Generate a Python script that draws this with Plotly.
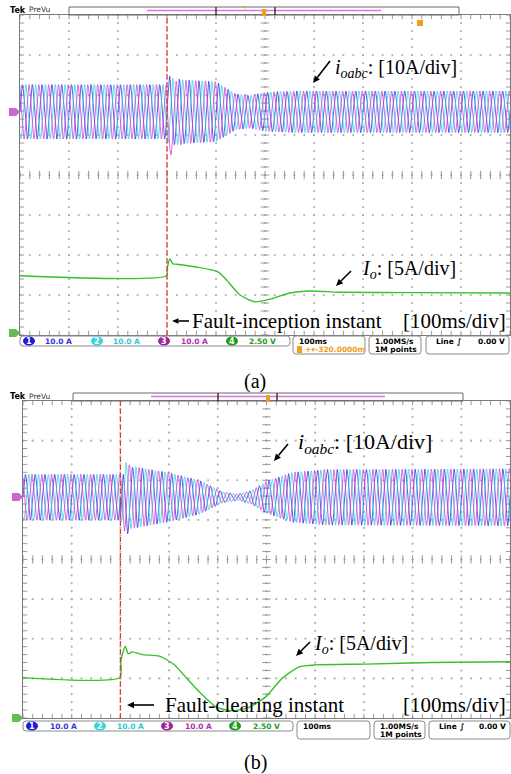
import numpy as np
import plotly.graph_objects as go

W, H = 511, 774


def px(x):
    return x / W


def py(y):
    return 1 - y / H


# ---------------- data (time in ms, amplitude in scope divisions) ----------------
F_LINE = 50.0
PHASE_DEG = [0, -120, 120]
ABC_COLORS = ["#2a2ae6", "#2fd0d8", "#d23ad2"]
GREEN = "#36c22b"

# (a) fault inception at 300 ms
fault_a = 300.0
center_a = 1.58
env_a_t = [0, 300, 306, 330, 400, 420, 440, 470, 500, 560, 1000]
env_a_amp = [0.68, 0.68, 0.86, 0.80, 0.75, 0.60, 0.45, 0.41, 0.49, 0.52, 0.52]
dc_a = [0.10, -0.05, -0.62]
io_a_t = [0, 299, 301, 306, 312, 320, 360, 404, 422, 449, 480, 517, 551, 592, 650, 800, 1000]
io_a = [-2.52, -2.52, -2.30, -2.10, -2.22, -2.23, -2.30, -2.42, -2.63, -3.00, -3.17,
        -3.08, -2.95, -2.90, -2.93, -2.94, -2.95]

# (b) fault clearing at 200 ms
fault_b = 200.0
center_b = 1.57
env_b_t = [0, 200, 206, 225, 300, 362, 409, 440, 470, 499, 553, 620, 1000]
env_b_amp = [0.58, 0.58, 0.88, 0.78, 0.62, 0.43, 0.14, 0.08, 0.18, 0.40, 0.63, 0.70, 0.72]
dc_b = [-0.55, 0.10, 0.05]
io_b_t = [0, 199, 201, 210, 216, 224, 245, 280, 310, 327, 362, 396, 430, 464, 499, 532,
          567, 601, 703, 840, 1000]
io_b = [-2.98, -2.98, -2.55, -2.19, -2.38, -2.33, -2.40, -2.44, -2.65, -2.87, -3.34, -3.72,
        -3.82, -3.73, -3.46, -3.00, -2.71, -2.66, -2.64, -2.60, -2.58]

t = np.arange(0, 1000.001, 0.25)

fig = go.Figure()


def add_panel(n, fault, center, env_t, env_amp, dc, io_t, io_v):
    xa = "x" if n == 1 else "x2"
    ya = "y" if n == 1 else "y2"
    # scope graticule dots
    gx, gy = [], []
    for xv in range(100, 1000, 100):
        for yv in np.arange(-4, 4.001, 0.2):
            gx.append(xv); gy.append(yv)
    for yv in range(-3, 4):
        for xv in np.arange(0, 1000.1, 20):
            gx.append(xv); gy.append(yv)
    fig.add_trace(go.Scatter(x=gx, y=gy, mode="markers", xaxis=xa, yaxis=ya,
                             marker=dict(symbol="circle", size=2.2, color="#b0b0b0",
                                         line=dict(width=0)),
                             hoverinfo="skip", showlegend=False))
    # tick marks on centre cross and frame edges
    hx = list(np.arange(0, 1000.1, 20))
    vy = list(np.arange(-4, 4.001, 0.2))
    fig.add_trace(go.Scatter(x=hx * 3, y=[0] * len(hx) + [4] * len(hx) + [-4] * len(hx),
                             mode="markers", xaxis=xa, yaxis=ya, cliponaxis=True,
                             marker=dict(symbol="line-ns", size=6,
                                         line=dict(width=1, color="#999999")),
                             hoverinfo="skip", showlegend=False))
    fig.add_trace(go.Scatter(x=[500] * len(vy) + [0] * len(vy) + [1000] * len(vy), y=vy * 3,
                             mode="markers", xaxis=xa, yaxis=ya, cliponaxis=True,
                             marker=dict(symbol="line-ew", size=6,
                                         line=dict(width=1, color="#999999")),
                             hoverinfo="skip", showlegend=False))
    # three-phase output currents
    env = np.interp(t, env_t, env_amp)
    after = t >= fault
    for k in range(3):
        trans = np.where(after, dc[k] * np.exp(-(t - fault) / 8.0), 0.0)
        y = center + env * np.sin(2 * np.pi * F_LINE * t / 1000 + np.deg2rad(PHASE_DEG[k])) + trans
        fig.add_trace(go.Scatter(x=t, y=y, mode="lines", xaxis=xa, yaxis=ya,
                                 line=dict(color=ABC_COLORS[k], width=0.75),
                                 hoverinfo="skip", showlegend=False))
    # DC-side current
    fig.add_trace(go.Scatter(x=io_t, y=io_v, mode="lines", xaxis=xa, yaxis=ya,
                             line=dict(color=GREEN, width=1.4, shape="spline", smoothing=0.6),
                             hoverinfo="skip", showlegend=False))
    # fault instant marker
    fig.add_shape(type="line", x0=fault, x1=fault, y0=0, y1=1, xref=xa, yref=ya + " domain",
                  line=dict(color="#e2392e", width=1.3, dash="5px,3px"))


add_panel(1, fault_a, center_a, env_a_t, env_a_amp, dc_a, io_a_t, io_a)
add_panel(2, fault_b, center_b, env_b_t, env_b_amp, dc_b, io_b_t, io_b)

axis_common = dict(showgrid=False, zeroline=False, showticklabels=False, ticks="",
                   showline=True, mirror=True, linecolor="#7a7a7a", linewidth=1)
fig.update_layout(
    width=W, height=H, margin=dict(l=0, r=0, t=0, b=0),
    paper_bgcolor="white", plot_bgcolor="white", showlegend=False,
    xaxis=dict(domain=[px(20), px(510)], range=[0, 1000], anchor="y", **axis_common),
    yaxis=dict(domain=[py(335), py(15)], range=[-4, 4], anchor="x", **axis_common),
    xaxis2=dict(domain=[px(23), px(510)], range=[0, 1000], anchor="y2", **axis_common),
    yaxis2=dict(domain=[py(718), py(401)], range=[-4, 4], anchor="x2", **axis_common),
)

SERIF = "Liberation Serif"
SANS = "DejaVu Sans"
ann = []
shapes = []


def text(x, y, s, size, color="black", family=SERIF, xanchor="left", bold=False):
    if bold:
        s = "<b>" + s + "</b>"
    ann.append(dict(x=px(x), y=py(y), xref="paper", yref="paper", text=s, showarrow=False,
                    xanchor=xanchor, yanchor="middle",
                    font=dict(family=family, size=size, color=color)))


def arrow(hx, hy, tx, ty, head=7.0, half=3.2):
    # shaft plus a filled triangular head pointing at (hx, hy)
    dx, dy = hx - tx, hy - ty
    L = (dx * dx + dy * dy) ** 0.5
    ux, uy = dx / L, dy / L
    bx, by = hx - ux * head, hy - uy * head
    shapes.append(dict(type="line", xref="paper", yref="paper", x0=px(tx), y0=py(ty),
                       x1=px(bx), y1=py(by), line=dict(color="black", width=1.6)))
    p1 = (bx - uy * half, by + ux * half)
    p2 = (bx + uy * half, by - ux * half)
    path = f"M{px(hx)},{py(hy)} L{px(p1[0])},{py(p1[1])} L{px(p2[0])},{py(p2[1])} Z"
    shapes.append(dict(type="path", path=path, xref="paper", yref="paper",
                       fillcolor="black", line=dict(width=0)))


IOABC = "<i>i</i><sub><i>oabc</i></sub>: [10A/div]"
IO = "<i>I</i><sub><i>o</i></sub>: [5A/div]"

# panel (a) labels
text(333, 68, IOABC, 20)
arrow(313, 83, 330, 61)
text(360, 270, IO, 20)
arrow(336, 286, 351, 271)
arrow(172, 321, 189, 321, head=6.5, half=2.8)
text(190, 321, "Fault-inception instant", 21)
text(508, 321, "[100ms/div]", 21, xanchor="right")
text(255, 381, "(a)", 20, xanchor="center")

# panel (b) labels
text(296, 443, IOABC, 22)
arrow(274, 461, 288, 444)
text(312, 644, IO, 20)
arrow(296, 656, 310, 642)
arrow(127, 705, 154, 705)
text(163, 705, "Fault-clearing instant", 21)
text(508, 705, "[100ms/div]", 21, xanchor="right")
text(255, 762, "(b)", 20, xanchor="center")


def rbox(x0, y0, x1, y1, color="#8a8a8a", r=3):
    a, b, c, d = px(x0), py(y0), px(x1), py(y1)
    rx, ry = r / W, r / H
    path = (f"M{a+rx},{b} L{c-rx},{b} Q{c},{b} {c},{b-ry} L{c},{d+ry} Q{c},{d} {c-rx},{d} "
            f"L{a+rx},{d} Q{a},{d} {a},{d+ry} L{a},{b-ry} Q{a},{b} {a+rx},{b} Z")
    shapes.append(dict(type="path", path=path, xref="paper", yref="paper",
                       line=dict(color=color, width=1)))


def badge(x, y, num, fill):
    shapes.append(dict(type="circle", xref="paper", yref="paper",
                       x0=px(x - 6), x1=px(x + 6), y0=py(y + 4.5), y1=py(y - 4.5),
                       fillcolor=fill, line=dict(width=0)))
    text(x, y, num, 8, color="white", family=SANS, xanchor="center", bold=True)


def flag(x0, yc, fill):
    pts = [(x0, yc - 4), (x0 + 7, yc - 4), (x0 + 11, yc), (x0 + 7, yc + 4), (x0, yc + 4)]
    path = "M" + " L".join(f"{px(a)},{py(b)}" for a, b in pts) + " Z"
    shapes.append(dict(type="path", path=path, xref="paper", yref="paper",
                       fillcolor=fill, line=dict(width=0)))


CH_FILL = ["#1c1cdc", "#38d4da", "#9a229a", "#1c9a1c"]
CH_TEXT = ["#3434e0", "#30c8d0", "#b02cb0", "#22a022"]
CH_SCALE = ["10.0 A", "10.0 A", "10.0 A", "2.50 V"]
ORANGE = "#f0a020"


def scope_chrome(top, left, bar_x0, bar_x1, mag_x0, mag_x1, brk, trig_x, sb_y, sb, badges_x,
                 labels_x, flag_y3, flag_y4, delay):
    # header
    text(8, top + 4, "Tek", 8, family=SANS, bold=True)
    text(27, top + 3, "PreVu", 7.5, color="#333333", family=SANS)
    shapes.append(dict(type="rect", xref="paper", yref="paper", x0=px(bar_x0), x1=px(bar_x1),
                       y0=py(top + 8), y1=py(top), line=dict(color="#6a6a6a", width=1)))
    shapes.append(dict(type="line", xref="paper", yref="paper", x0=px(mag_x0), x1=px(mag_x1),
                       y0=py(top + 3.5), y1=py(top + 3.5), line=dict(color="#e070e0", width=1.5)))
    for bx in brk:
        shapes.append(dict(type="line", xref="paper", yref="paper", x0=px(bx), x1=px(bx),
                           y0=py(top + 8), y1=py(top), line=dict(color="#222222", width=1.3)))
    shapes.append(dict(type="rect", xref="paper", yref="paper", x0=px(trig_x - 2),
                       x1=px(trig_x + 2), y0=py(top + 9), y1=py(top + 2),
                       fillcolor=ORANGE, line=dict(width=0)))
    # left-side channel flags
    flag(left - 11, flag_y3, "#cc66cc")
    flag(left - 11, flag_y4, "#66bb55")
    # status bar
    x0, x1, x2, x3, x4, x5, x6, x7 = sb
    rbox(x0, sb_y, x1, sb_y + 10)
    rbox(x2, sb_y, x3, sb_y + 18)
    rbox(x4, sb_y, x5, sb_y + 18)
    rbox(x6, sb_y, x7, sb_y + 18)
    for k in range(4):
        badge(badges_x[k], sb_y + 5, str(k + 1), CH_FILL[k])
        text(labels_x[k], sb_y + 5, CH_SCALE[k], 7.5, color=CH_TEXT[k], family=SANS, bold=True)
    text(x2 + 4, sb_y + 5, "100ms", 7.5, family=SANS, bold=True)
    if delay:
        shapes.append(dict(type="rect", xref="paper", yref="paper", x0=px(x2 + 4), x1=px(x2 + 9),
                           y0=py(sb_y + 17), y1=py(sb_y + 10), fillcolor=ORANGE, line=dict(width=0)))
        text(x2 + 10, sb_y + 13.5, delay, 7.5, color=ORANGE, family=SANS, bold=True)
    text(x4 + 4, sb_y + 5, "1.00MS/s", 7.5, family=SANS, bold=True)
    text(x4 + 4, sb_y + 13.5, "1M points", 7.5, family=SANS, bold=True)
    text(x6 + 8, sb_y + 5, "Line", 7.5, family=SANS, bold=True)
    text(x6 + 29, sb_y + 5, "∫", 7.5, family=SANS, bold=True)
    text(x7 - 2, sb_y + 5, "0.00 V", 7.5, family=SANS, bold=True, xanchor="right")


scope_chrome(top=7, left=20, bar_x0=69, bar_x1=459, mag_x0=147, mag_x1=381, brk=[216, 275],
             trig_x=264, sb_y=336, sb=[20, 290, 293, 365, 369, 421, 426, 509],
             badges_x=[29, 97, 164, 232], labels_x=[43, 111, 179, 247],
             flag_y3=112, flag_y4=333, delay="+▾-320.0000m")
# extra trigger-position marks in (a)
shapes.append(dict(type="rect", xref="paper", yref="paper", x0=px(417), x1=px(423),
                   y0=py(26), y1=py(20), fillcolor=ORANGE, line=dict(width=0)))
shapes.append(dict(type="path", xref="paper", yref="paper", fillcolor=ORANGE, line=dict(width=0),
                   path=f"M{px(243)},{py(6)} L{px(247)},{py(6)} L{px(245)},{py(9)} Z"))

scope_chrome(top=393, left=23, bar_x0=73, bar_x1=463, mag_x0=151, mag_x1=385, brk=[218, 277],
             trig_x=268, sb_y=721, sb=[23, 293, 297, 370, 374, 425, 429, 510],
             badges_x=[32, 100, 167, 235], labels_x=[48, 115, 183, 251],
             flag_y3=497, flag_y4=718, delay=None)

fig.update_layout(annotations=ann, shapes=fig.layout.shapes + tuple(shapes))
fig.write_html("out.html")
